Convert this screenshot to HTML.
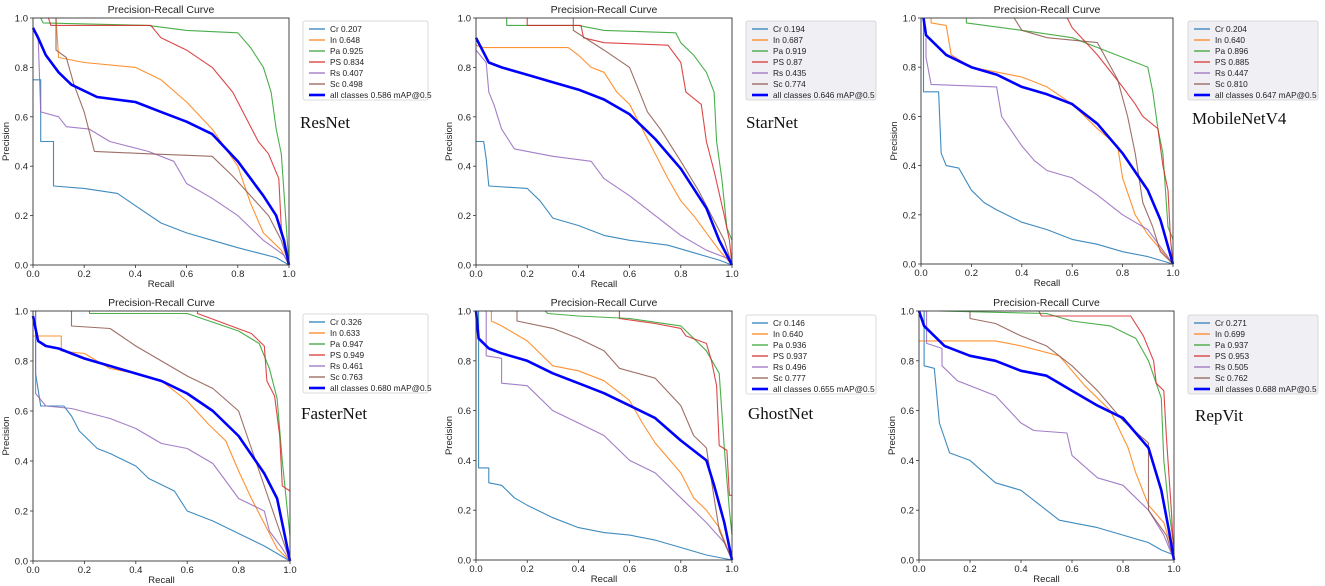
<!DOCTYPE html>
<html><head><meta charset="utf-8"><style>
html,body{margin:0;padding:0;background:#fff;}
svg{display:block;font-family:"Liberation Sans",sans-serif;}
</style></head><body>
<svg id="fig" width="1325" height="586" viewBox="0 0 1325 586"></svg>
<script>
const classNames = ["Cr","In","Pa","PS","Rs","Sc"];
const modelNames = ["ResNet","StarNet","MobileNetV4","FasterNet","GhostNet","RepVit"];
const resnetAP = [0.207,0.648,0.925,0.834,0.407,0.498,0.586];
const starnetAP = [0.194,0.687,0.919,"0.87",0.435,0.774,0.646];
const mobilenetAP = [0.204,"0.640",0.896,0.885,0.447,"0.810",0.647];
const fasternetAP = [0.326,0.633,0.947,0.949,0.461,0.763,"0.680"];
const ghostnetAP = [0.146,"0.640",0.936,0.937,0.496,0.777,0.655];
const repvitAP = [0.271,0.699,0.937,0.953,0.505,0.762,0.688];
const xTicks = [0,0.2,0.4,0.6,0.8,1.0];
const yTicks = [0,0.2,0.4,0.6,0.8,1.0];

const resnet_Cr=[[0,0.75],[0.03,0.75],[0.03,0.5],[0.08,0.5],[0.08,0.32],[0.2,0.31],[0.33,0.29],[0.4,0.24],[0.5,0.17],[0.6,0.13],[0.7,0.1],[0.8,0.07],[0.95,0.03],[1,0]];
const resnet_In=[[0.09,1],[0.1,0.84],[0.2,0.82],[0.4,0.8],[0.5,0.75],[0.6,0.66],[0.7,0.55],[0.8,0.4],[0.85,0.25],[0.9,0.13],[0.97,0.06],[1,0]];
const resnet_Pa=[[0.03,1],[0.04,0.98],[0.45,0.97],[0.6,0.95],[0.8,0.94],[0.85,0.88],[0.9,0.8],[0.93,0.7],[0.95,0.55],[0.97,0.45],[0.99,0.15],[1,0]];
const resnet_PS=[[0.06,1],[0.07,0.97],[0.46,0.97],[0.5,0.92],[0.6,0.87],[0.7,0.8],[0.78,0.7],[0.83,0.6],[0.88,0.5],[0.92,0.45],[0.96,0.35],[0.97,0.15],[1,0]];
const resnet_Rs=[[0.02,0.93],[0.03,0.62],[0.1,0.6],[0.13,0.56],[0.22,0.55],[0.3,0.5],[0.45,0.46],[0.55,0.42],[0.6,0.33],[0.7,0.27],[0.8,0.2],[0.9,0.1],[0.98,0.04],[1,0]];
const resnet_Sc=[[0.09,1],[0.09,0.87],[0.13,0.84],[0.16,0.73],[0.2,0.62],[0.24,0.46],[0.45,0.45],[0.7,0.44],[0.78,0.36],[0.85,0.28],[0.92,0.2],[0.97,0.1],[1,0]];
const resnet_All=[[0,0.96],[0.02,0.92],[0.05,0.85],[0.1,0.78],[0.15,0.73],[0.25,0.68],[0.4,0.66],[0.5,0.62],[0.6,0.58],[0.7,0.53],[0.8,0.42],[0.9,0.28],[0.95,0.2],[0.98,0.1],[1,0]];

const starnet_Cr=[[0,0.5],[0.03,0.5],[0.04,0.43],[0.05,0.32],[0.2,0.31],[0.25,0.26],[0.3,0.19],[0.4,0.16],[0.5,0.12],[0.6,0.1],[0.75,0.08],[0.85,0.05],[0.95,0.02],[1,0]];
const starnet_In=[[0,0.89],[0.03,0.88],[0.36,0.88],[0.4,0.85],[0.45,0.8],[0.5,0.78],[0.55,0.7],[0.6,0.65],[0.65,0.55],[0.7,0.45],[0.75,0.35],[0.8,0.26],[0.85,0.2],[0.9,0.13],[0.95,0.06],[1,0]];
const starnet_Pa=[[0.12,1],[0.12,0.97],[0.4,0.97],[0.5,0.95],[0.78,0.94],[0.8,0.9],[0.85,0.85],[0.9,0.78],[0.93,0.7],[0.94,0.5],[0.96,0.35],[0.98,0.15],[1,0.1]];
const starnet_PS=[[0.2,1],[0.2,0.97],[0.41,0.97],[0.42,0.92],[0.5,0.9],[0.75,0.89],[0.8,0.82],[0.82,0.7],[0.88,0.65],[0.9,0.5],[0.93,0.38],[0.97,0.2],[0.99,0.1],[1,0]];
const starnet_Rs=[[0,0.87],[0.04,0.82],[0.05,0.7],[0.07,0.65],[0.1,0.55],[0.15,0.47],[0.3,0.44],[0.45,0.42],[0.5,0.35],[0.6,0.28],[0.7,0.2],[0.8,0.12],[0.9,0.06],[1,0.02]];
const starnet_Sc=[[0.38,1],[0.38,0.95],[0.5,0.87],[0.6,0.8],[0.67,0.62],[0.72,0.55],[0.8,0.42],[0.87,0.3],[0.92,0.2],[0.97,0.1],[1,0]];
const starnet_All=[[0,0.92],[0.05,0.82],[0.1,0.8],[0.2,0.77],[0.3,0.74],[0.4,0.71],[0.5,0.67],[0.6,0.61],[0.7,0.51],[0.8,0.39],[0.9,0.23],[0.95,0.1],[1,0]];

const mobilenet_Cr=[[0.01,1],[0.01,0.7],[0.07,0.7],[0.08,0.45],[0.1,0.4],[0.15,0.39],[0.2,0.3],[0.25,0.25],[0.3,0.22],[0.4,0.17],[0.5,0.14],[0.6,0.1],[0.7,0.08],[0.8,0.05],[0.9,0.03],[1,0]];
const mobilenet_In=[[0.04,1],[0.04,0.98],[0.1,0.97],[0.12,0.85],[0.2,0.8],[0.3,0.78],[0.4,0.76],[0.5,0.72],[0.6,0.65],[0.7,0.55],[0.78,0.48],[0.8,0.35],[0.85,0.2],[0.9,0.12],[1,0]];
const mobilenet_Pa=[[0.18,1],[0.18,0.98],[0.4,0.95],[0.6,0.92],[0.7,0.88],[0.9,0.8],[0.92,0.7],[0.94,0.55],[0.96,0.45],[0.98,0.15],[1,0.1]];
const mobilenet_PS=[[0.58,1],[0.6,0.96],[0.7,0.85],[0.8,0.72],[0.85,0.65],[0.88,0.6],[0.94,0.55],[0.96,0.4],[0.98,0.3],[0.99,0.1],[1,0]];
const mobilenet_Rs=[[0.02,0.92],[0.02,0.84],[0.04,0.73],[0.3,0.72],[0.32,0.6],[0.4,0.48],[0.45,0.42],[0.5,0.38],[0.6,0.35],[0.7,0.28],[0.8,0.2],[0.9,0.14],[1,0]];
const mobilenet_Sc=[[0.37,1],[0.4,0.95],[0.5,0.92],[0.7,0.9],[0.78,0.75],[0.82,0.6],[0.85,0.45],[0.88,0.25],[0.92,0.15],[0.95,0.05],[1,0]];
const mobilenet_All=[[0.01,1],[0.02,0.93],[0.1,0.85],[0.2,0.8],[0.3,0.77],[0.4,0.72],[0.5,0.69],[0.6,0.65],[0.7,0.57],[0.8,0.45],[0.9,0.3],[0.95,0.18],[1,0]];

const fasternet_Cr=[[0.01,1],[0.01,0.75],[0.03,0.62],[0.12,0.62],[0.15,0.58],[0.18,0.52],[0.25,0.45],[0.3,0.43],[0.4,0.38],[0.45,0.33],[0.55,0.28],[0.6,0.2],[0.7,0.16],[0.8,0.11],[0.9,0.06],[1,0]];
const fasternet_In=[[0,0.9],[0.11,0.9],[0.11,0.84],[0.2,0.83],[0.3,0.77],[0.4,0.75],[0.5,0.72],[0.6,0.64],[0.68,0.55],[0.75,0.48],[0.8,0.36],[0.85,0.25],[0.9,0.15],[0.95,0.05],[1,0]];
const fasternet_Pa=[[0.22,1],[0.22,0.99],[0.6,0.99],[0.8,0.92],[0.88,0.87],[0.92,0.77],[0.95,0.65],[0.97,0.4],[0.99,0.2],[1,0.1]];
const fasternet_PS=[[0.64,1],[0.64,0.99],[0.85,0.91],[0.9,0.86],[0.91,0.72],[0.94,0.66],[0.96,0.5],[0.97,0.3],[1,0.28]];
const fasternet_Rs=[[0.01,1],[0.01,0.67],[0.05,0.62],[0.15,0.61],[0.3,0.57],[0.4,0.53],[0.5,0.47],[0.6,0.45],[0.7,0.39],[0.75,0.32],[0.8,0.25],[0.9,0.2],[0.92,0.12],[0.97,0.05],[1,0]];
const fasternet_Sc=[[0.15,1],[0.15,0.94],[0.3,0.93],[0.4,0.86],[0.5,0.8],[0.6,0.74],[0.7,0.69],[0.8,0.6],[0.85,0.45],[0.9,0.3],[0.95,0.15],[1,0]];
const fasternet_All=[[0,0.98],[0.02,0.88],[0.05,0.86],[0.1,0.85],[0.2,0.81],[0.3,0.78],[0.4,0.75],[0.5,0.72],[0.6,0.67],[0.7,0.6],[0.8,0.5],[0.9,0.35],[0.95,0.25],[0.98,0.1],[1,0]];

const ghostnet_Cr=[[0.01,1],[0.01,0.37],[0.05,0.37],[0.05,0.31],[0.1,0.3],[0.15,0.25],[0.2,0.22],[0.3,0.17],[0.4,0.13],[0.5,0.11],[0.6,0.1],[0.7,0.08],[0.8,0.05],[0.9,0.02],[1,0]];
const ghostnet_In=[[0.06,1],[0.06,0.96],[0.1,0.94],[0.2,0.88],[0.3,0.78],[0.4,0.76],[0.5,0.72],[0.6,0.64],[0.65,0.55],[0.7,0.47],[0.8,0.35],[0.85,0.25],[0.9,0.2],[0.95,0.13],[1,0]];
const ghostnet_Pa=[[0.27,1],[0.28,0.99],[0.4,0.98],[0.6,0.97],[0.8,0.94],[0.9,0.84],[0.95,0.75],[0.97,0.45],[0.99,0.2],[1,0.1]];
const ghostnet_PS=[[0.56,1],[0.56,0.97],[0.7,0.95],[0.8,0.93],[0.82,0.9],[0.9,0.87],[0.92,0.8],[0.94,0.7],[0.95,0.46],[0.98,0.44],[0.99,0.26],[1,0.26]];
const ghostnet_Rs=[[0.04,1],[0.04,0.82],[0.1,0.81],[0.1,0.71],[0.2,0.7],[0.3,0.6],[0.4,0.55],[0.5,0.5],[0.6,0.4],[0.7,0.35],[0.8,0.25],[0.9,0.15],[0.97,0.07],[1,0]];
const ghostnet_Sc=[[0.16,1],[0.16,0.96],[0.3,0.93],[0.4,0.89],[0.5,0.84],[0.56,0.77],[0.7,0.73],[0.8,0.62],[0.85,0.5],[0.9,0.45],[0.93,0.25],[0.95,0.12],[1,0]];
const ghostnet_All=[[0,1],[0.01,0.89],[0.05,0.85],[0.1,0.83],[0.2,0.8],[0.3,0.75],[0.4,0.71],[0.5,0.67],[0.6,0.62],[0.7,0.57],[0.8,0.48],[0.9,0.4],[0.93,0.3],[0.97,0.15],[1,0]];

const repvit_Cr=[[0.02,1],[0.02,0.78],[0.06,0.77],[0.08,0.55],[0.12,0.43],[0.2,0.4],[0.3,0.31],[0.4,0.28],[0.5,0.2],[0.55,0.16],[0.7,0.13],[0.8,0.1],[0.9,0.07],[0.95,0.04],[1,0.02]];
const repvit_In=[[0,0.88],[0.3,0.88],[0.4,0.86],[0.55,0.82],[0.65,0.7],[0.75,0.6],[0.82,0.45],[0.85,0.35],[0.9,0.22],[0.96,0.15],[1,0.02]];
const repvit_Pa=[[0.08,1],[0.5,0.99],[0.6,0.96],[0.75,0.94],[0.85,0.89],[0.9,0.8],[0.95,0.65],[0.96,0.4],[0.98,0.2],[1,0.05]];
const repvit_PS=[[0.47,1],[0.48,0.98],[0.83,0.98],[0.88,0.9],[0.92,0.8],[0.93,0.71],[0.96,0.68],[0.97,0.5],[0.99,0.19],[1,0]];
const repvit_Rs=[[0.03,1],[0.03,0.87],[0.09,0.85],[0.09,0.78],[0.15,0.72],[0.3,0.66],[0.4,0.55],[0.45,0.52],[0.58,0.51],[0.6,0.42],[0.7,0.33],[0.8,0.3],[0.9,0.2],[0.96,0.1],[1,0]];
const repvit_Sc=[[0.2,1],[0.2,0.97],[0.3,0.95],[0.4,0.9],[0.5,0.86],[0.6,0.78],[0.7,0.68],[0.8,0.56],[0.9,0.47],[0.9,0.2],[0.97,0.1],[1,0]];
const repvit_All=[[0,1],[0.02,0.94],[0.1,0.86],[0.2,0.82],[0.3,0.8],[0.4,0.76],[0.5,0.74],[0.6,0.68],[0.7,0.62],[0.8,0.57],[0.9,0.45],[0.95,0.28],[0.98,0.12],[1,0]];

const colors=["#1f77b4","#ff7f0e","#2ca02c","#d62728","#9467bd","#8c564b","#0000ff"];
const layout=[
 {x0:33,x1:289,y0:18,y1:265,lx:303,ly:21,lw:125,lbg:"#ffffff",nx:300,ny:128,slug:"resnet",ap:resnetAP,series:[resnet_Cr,resnet_In,resnet_Pa,resnet_PS,resnet_Rs,resnet_Sc,resnet_All]},
 {x0:476,x1:732,y0:18,y1:265,lx:746,ly:21,lw:130,lbg:"#f0f0f4",nx:746,ny:128,slug:"starnet",ap:starnetAP,series:[starnet_Cr,starnet_In,starnet_Pa,starnet_PS,starnet_Rs,starnet_Sc,starnet_All]},
 {x0:921,x1:1173,y0:18,y1:264,lx:1188,ly:21,lw:130,lbg:"#f0f0f4",nx:1192,ny:124,slug:"mobilenetv4",ap:mobilenetAP,series:[mobilenet_Cr,mobilenet_In,mobilenet_Pa,mobilenet_PS,mobilenet_Rs,mobilenet_Sc,mobilenet_All]},
 {x0:33,x1:290,y0:311,y1:561,lx:303,ly:314,lw:125,lbg:"#ffffff",nx:301,ny:419,slug:"fasternet",ap:fasternetAP,series:[fasternet_Cr,fasternet_In,fasternet_Pa,fasternet_PS,fasternet_Rs,fasternet_Sc,fasternet_All]},
 {x0:476,x1:732,y0:311,y1:560,lx:746,ly:315,lw:130,lbg:"#ffffff",nx:748,ny:419,slug:"ghostnet",ap:ghostnetAP,series:[ghostnet_Cr,ghostnet_In,ghostnet_Pa,ghostnet_PS,ghostnet_Rs,ghostnet_Sc,ghostnet_All]},
 {x0:919,x1:1174,y0:311,y1:560,lx:1188,ly:315,lw:130,lbg:"#f0f0f4",nx:1195,ny:421,slug:"repvit",ap:repvitAP,series:[repvit_Cr,repvit_In,repvit_Pa,repvit_PS,repvit_Rs,repvit_Sc,repvit_All]}
];
const NS="http://www.w3.org/2000/svg";
const svg=document.getElementById("fig");
function mk(tag,attrs,parent,text){const e=document.createElementNS(NS,tag);for(const k in attrs)e.setAttribute(k,attrs[k]);if(text!==undefined)e.textContent=text;parent.appendChild(e);return e;}
layout.forEach((L,pi)=>{
 const g=mk("g",{},svg);
 
 
 const sx=v=>L.x0+v*(L.x1-L.x0), sy=v=>L.y1-v*(L.y1-L.y0);
 const t=mk("text",{x:(L.x0+L.x1)/2,y:L.y0-5,"text-anchor":"middle","font-size":"10.5",fill:"#222"},g,"Precision-Recall Curve");
 
 
 xTicks.forEach(v=>{
  mk("line",{x1:sx(v),x2:sx(v),y1:L.y1,y2:L.y1+3,stroke:"#333","stroke-width":0.8},g);
  const tl=mk("text",{x:sx(v),y:L.y1+12,"text-anchor":"middle","font-size":"9.5",fill:"#222"},g,v.toFixed(1));
  
  
 });
 yTicks.forEach(v=>{
  mk("line",{x1:L.x0-3,x2:L.x0,y1:sy(v),y2:sy(v),stroke:"#333","stroke-width":0.8},g);
  const tl=mk("text",{x:L.x0-5,y:sy(v)+3.5,"text-anchor":"end","font-size":"9.5",fill:"#222"},g,v.toFixed(1));
  
  
 });
 const xt=mk("text",{x:(L.x0+L.x1)/2,y:L.y1+22,"text-anchor":"middle","font-size":"9.5",fill:"#222"},g,"Recall");
 
 
 const yx=L.x0-24, yy=(L.y0+L.y1)/2;
 const yt=mk("text",{x:yx,y:yy,"text-anchor":"middle","font-size":"9.5",fill:"#222",transform:`rotate(-90 ${yx} ${yy})`},g,"Precision");
 
 
 L.series.forEach((pts,si)=>{
  const p=mk("polyline",{points:pts.map(d=>sx(d[0]).toFixed(1)+","+sy(d[1]).toFixed(1)).join(" "),fill:"none",stroke:colors[si],"stroke-width":si===6?2.6:1.1,"stroke-opacity":si===6?1:0.85,"stroke-linejoin":"round"},g);
  
  
 });
 const fr=mk("rect",{x:L.x0,y:L.y0,width:L.x1-L.x0,height:L.y1-L.y0,fill:"none",stroke:"#333","stroke-width":0.9},g);
 
 
 const lg=mk("g",{},g);
 
 
 mk("rect",{x:L.lx,y:L.ly,width:L.lw,height:79,rx:2,fill:L.lbg,stroke:"#d0d0d0","stroke-width":0.8},lg);
 for(let i=0;i<7;i++){
  const ry=L.ly+8+i*11;
  mk("line",{x1:L.lx+6,x2:L.lx+22,y1:ry,y2:ry,stroke:colors[i],"stroke-width":i===6?2.6:1.2},lg);
  const label=(i<6?classNames[i]+" "+L.ap[i]:"all classes "+L.ap[6]+" mAP@0.5");
  const le=mk("text",{x:L.lx+27,y:ry+3.2,"font-size":"8.3",fill:"#222"},lg,label);
  
  
 }
 const nm=mk("text",{x:L.nx,y:L.ny,"font-family":"Liberation Serif, serif","font-size":"17",fill:"#111"},g,modelNames[pi]);
 
 
});
</script>
</body></html>
